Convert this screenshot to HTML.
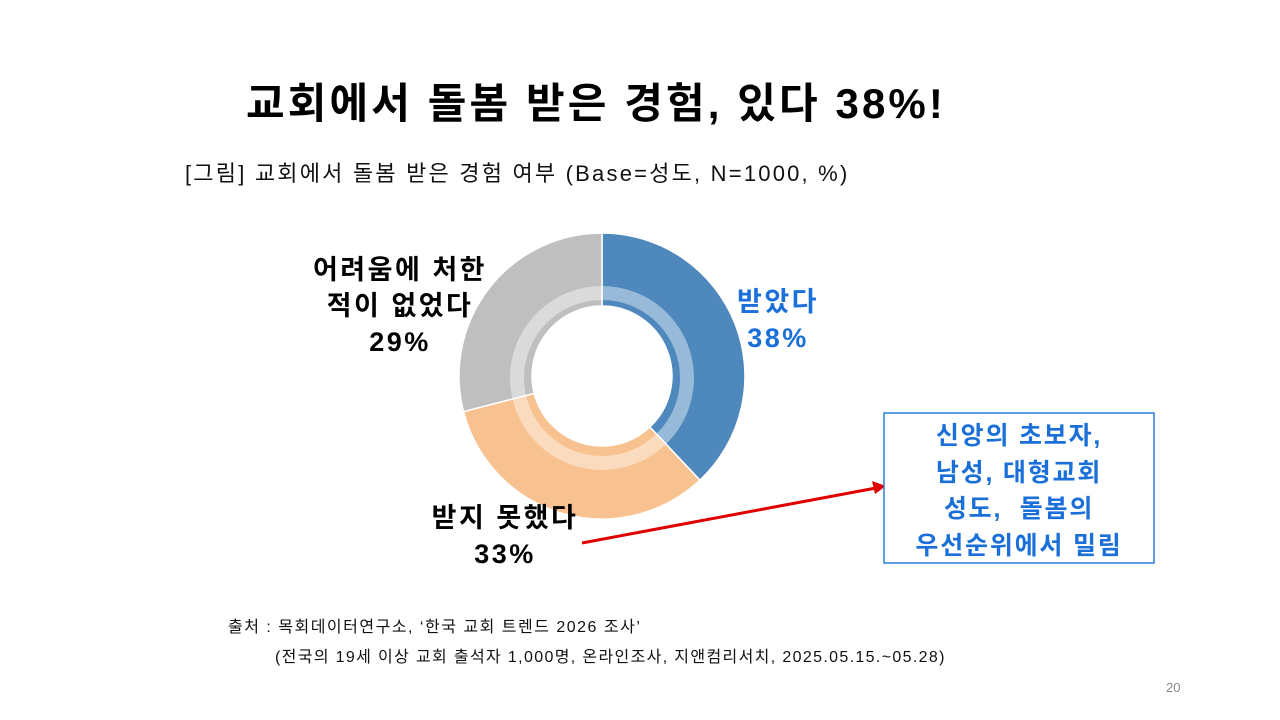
<!DOCTYPE html>
<html><head><meta charset="utf-8"><style>
body{margin:0;width:1280px;height:720px;background:#fff;position:relative;overflow:hidden;font-family:"Liberation Sans","Noto Sans CJK KR",sans-serif}
.t{position:absolute;white-space:nowrap}
</style></head><body>
<div class="t" style="left:246px;top:70px;font-size:42px;font-weight:bold;color:#000;letter-spacing:3.1px">교회에서 돌봄 받은 경험, 있다 38%!</div>
<div class="t" style="left:185px;top:156px;font-size:22px;color:#111;letter-spacing:2.2px">[그림] 교회에서 돌봄 받은 경험 여부 (Base=성도, N=1000, %)</div>
<svg style="position:absolute;left:0;top:0" width="1280" height="720">
<path d="M602,233 A143,143 0 0 1 699.9,480.2 L649.9,427 A70,70 0 0 0 602,306 Z" fill="#4f88bd" stroke="#fff" stroke-width="1.5"/>
<path d="M699.9,480.2 A143,143 0 0 1 463.5,411.6 L534.2,393.4 A70,70 0 0 0 649.9,427 Z" fill="#f8c290" stroke="#fff" stroke-width="1.5"/>
<path d="M463.5,411.6 A143,143 0 0 1 602,233 L602,306 A70,70 0 0 0 534.2,393.4 Z" fill="#bfbfbf" stroke="#fff" stroke-width="1.5"/>
<circle cx="602" cy="378" r="85" fill="none" stroke="#fff" stroke-opacity="0.42" stroke-width="14"/>
<circle cx="602" cy="376" r="70" fill="#fff"/>
<line x1="582" y1="543" x2="876" y2="488" stroke="#e00000" stroke-width="3"/>
<polygon points="886,486 872,481 875,494" fill="#e00000"/>
<rect x="884" y="413" width="270" height="150" fill="#fff" stroke="#2f7ed8" stroke-width="1.5"/>
</svg>
<div class="t" style="left:295px;top:252px;width:210px;text-align:center;font-size:27px;font-weight:bold;line-height:36px;color:#000;letter-spacing:2.5px">어려움에 처한<br>적이 없었다<br>29%</div>
<div class="t" style="left:728px;top:284px;width:100px;text-align:center;font-size:27px;font-weight:bold;line-height:36px;color:#1a6fd8;letter-spacing:2.5px">받았다<br>38%</div>
<div class="t" style="left:400px;top:500px;width:210px;text-align:center;font-size:27px;font-weight:bold;line-height:36px;color:#000;letter-spacing:2.5px">받지 못했다<br>33%</div>
<div class="t" style="left:884px;top:418px;width:270px;text-align:center;font-size:25px;font-weight:bold;line-height:36.5px;color:#1a6fd8;letter-spacing:1.8px">신앙의 초보자,<br>남성, 대형교회<br>성도,&nbsp; 돌봄의<br>우선순위에서 밀림</div>
<div class="t" style="left:228px;top:613px;font-size:16px;color:#111;letter-spacing:1.5px">출처 : 목회데이터연구소, ‘한국 교회 트렌드 2026 조사’</div>
<div class="t" style="left:275px;top:643px;font-size:16px;color:#111;letter-spacing:1.35px">(전국의 19세 이상 교회 출석자 1,000명, 온라인조사, 지앤컴리서치, 2025.05.15.~05.28)</div>
<div class="t" style="left:1166px;top:680px;font-size:13px;color:#888">20</div>
</body></html>
